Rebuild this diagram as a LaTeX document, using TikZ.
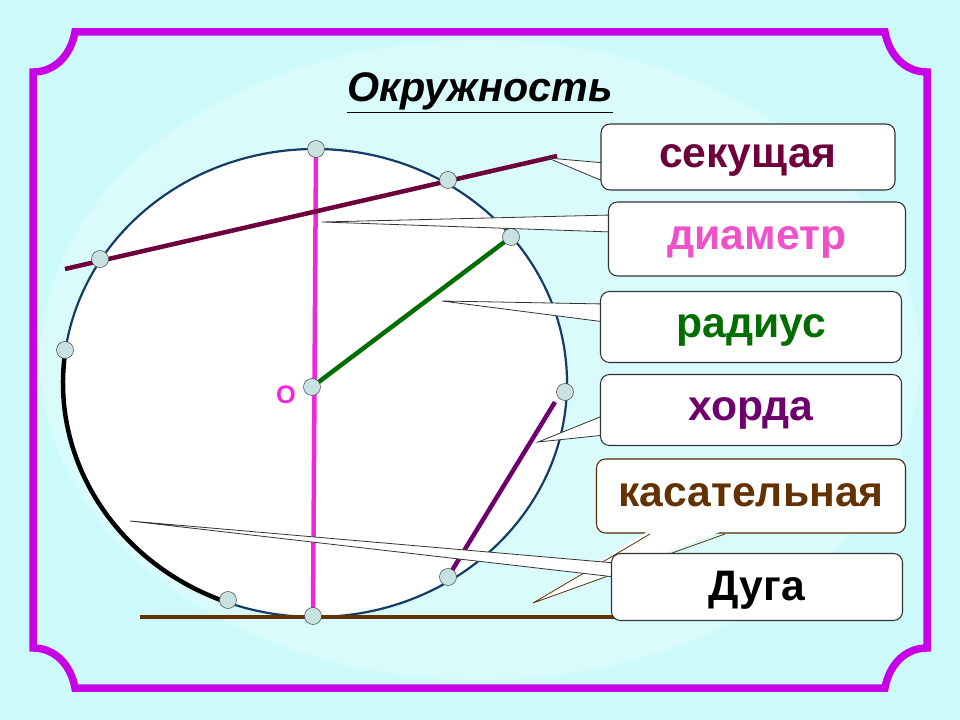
\documentclass[tikz,border=0pt]{standalone}
\usepackage{fontspec}
\setmainfont{Liberation Sans}
\begin{document}
\begin{tikzpicture}[x=0.75pt,y=-0.75pt]
\definecolor{bg}{RGB}{205,250,250}
\definecolor{frm}{RGB}{200,0,230}
\definecolor{circ}{RGB}{20,60,100}
\definecolor{sec}{RGB}{110,0,60}
\definecolor{dia}{RGB}{240,40,220}
\definecolor{diat}{RGB}{240,80,200}
\definecolor{rad}{RGB}{0,110,0}
\definecolor{hor}{RGB}{110,0,110}
\definecolor{kas}{RGB}{100,50,0}
\definecolor{pt}{RGB}{200,225,225}
\tikzset{
 pnt/.style={circle,draw=black!70,fill=pt,inner sep=0pt,minimum size=17pt*0.75},
 lbl/.style={draw=black!80,fill=white,rounded corners=9pt*0.75,line width=0.8pt,minimum height=66pt*0.75,font=\bfseries\fontsize{32}{34}\selectfont,text depth=0.2em},
 call/.style={draw=black!80,fill=white,line width=0.6pt}
}
\fill[bg] (0,0) rectangle (960,720);
\fill[white,opacity=0.25] (480,360) ellipse (440 and 320);
\useasboundingbox (0,0) rectangle (960,720);
% frame
\draw[frm,line width=7.5pt*0.75]
 (75,32) -- (885,32) to[out=-80,in=180] (927,72) -- (927,648) to[out=180,in=80] (885,688)
 -- (75,688) to[out=100,in=0] (33,648) -- (33,72) to[out=0,in=-100] (75,32) -- cycle;
% title
\node (title) at (480,93) {\bfseries\itshape\fontsize{31}{34}\selectfont\underline{Окружность}};
% circle
\fill[white] (315,383) ellipse (252 and 234);
\draw[circ,line width=2.2pt*0.75] (315,383) ellipse (252 and 234);
% arc
\draw[black,line width=4.5pt*0.75] (315,383) ++(188:252 and 234) arc[start angle=188,end angle=110,x radius=252,y radius=234];
% points coordinates
\coordinate (top) at (316,149);
\coordinate (bot) at (313,616);
\coordinate (O) at (312,387);
\coordinate (s1) at (448,180);
\coordinate (s2) at (100,259);
\coordinate (sa) at (65,269);
\coordinate (sb) at (557,156);
\coordinate (r1) at (511,237);
\coordinate (lp) at (65,350);
\coordinate (rp) at (565,392);
\coordinate (c1) at (555,402);
\coordinate (c2) at (448,577);
\coordinate (ap) at (228,600);
\coordinate (ta) at (140,617);
\coordinate (tb) at (620,617);
% lines
\draw[kas,line width=4.5pt*0.75] (ta) -- (tb);
\draw[dia,line width=4.5pt*0.75] (top) -- (bot);
\draw[sec,line width=4.5pt*0.75] (sa) -- (sb);
\draw[rad,line width=4.5pt*0.75] (O) -- (r1);
\draw[hor,line width=4.5pt*0.75] (c1) -- (c2);
\node[text=dia,font=\bfseries\fontsize{19}{22}\selectfont] (Olbl) at (286,395) {O};
% callout pointers
\coordinate (tS) at (548,158);
\coordinate (tD) at (322,222);
\coordinate (tR) at (442,301);
\coordinate (tH) at (538,442);
\coordinate (tK) at (533,603);
\coordinate (tA) at (130,521);
\fill[white] (tS) -- (605,163) -- (605,182) -- cycle;
\draw[call] (605,163) -- (tS) -- (605,182);
\fill[white] (tD) -- (612,215) -- (612,232) -- cycle;
\draw[call] (612,215) -- (tD) -- (612,232);
\fill[white] (tR) -- (605,304) -- (605,322) -- cycle;
\draw[call] (605,304) -- (tR) -- (605,322);
\fill[white] (tH) -- (605,415) -- (605,435) -- cycle;
\draw[call] (605,415) -- (tH) -- (605,435);
% boxes
\node[lbl,text=sec,minimum width=294pt*0.75] (bS) at (748,157) {секущая};
\node[lbl,text=diat,minimum width=297pt*0.75,minimum height=74pt*0.75] (bD) at (757,239) {диаметр};
\node[lbl,text=rad,minimum width=301pt*0.75,minimum height=71pt*0.75] (bR) at (751,327) {радиус};
\node[lbl,text=hor,minimum width=301pt*0.75,minimum height=71pt*0.75] (bH) at (751,410) {хорда};
\node[lbl,draw=kas!80!black,text=kas,minimum width=309pt*0.75,minimum height=74pt*0.75] (bK) at (751,496) {касательная};
\fill[white] (tK) -- (650,530) -- (725,530) -- cycle;
\draw[kas,line width=0.6pt] (650,534) -- (tK) -- (725,534);
\fill[white] (tA) -- (615,563) -- (615,577) -- cycle;
\draw[call] (615,563) -- (tA) -- (615,577);
\node[lbl,text=black,minimum width=291pt*0.75,minimum height=67pt*0.75] (bA) at (757,587) {Дуга};
% points
\foreach \p in {top,bot,O,s1,s2,r1,lp,rp,c2,ap} \node[pnt] at (\p) {};
\end{tikzpicture}
\end{document}
